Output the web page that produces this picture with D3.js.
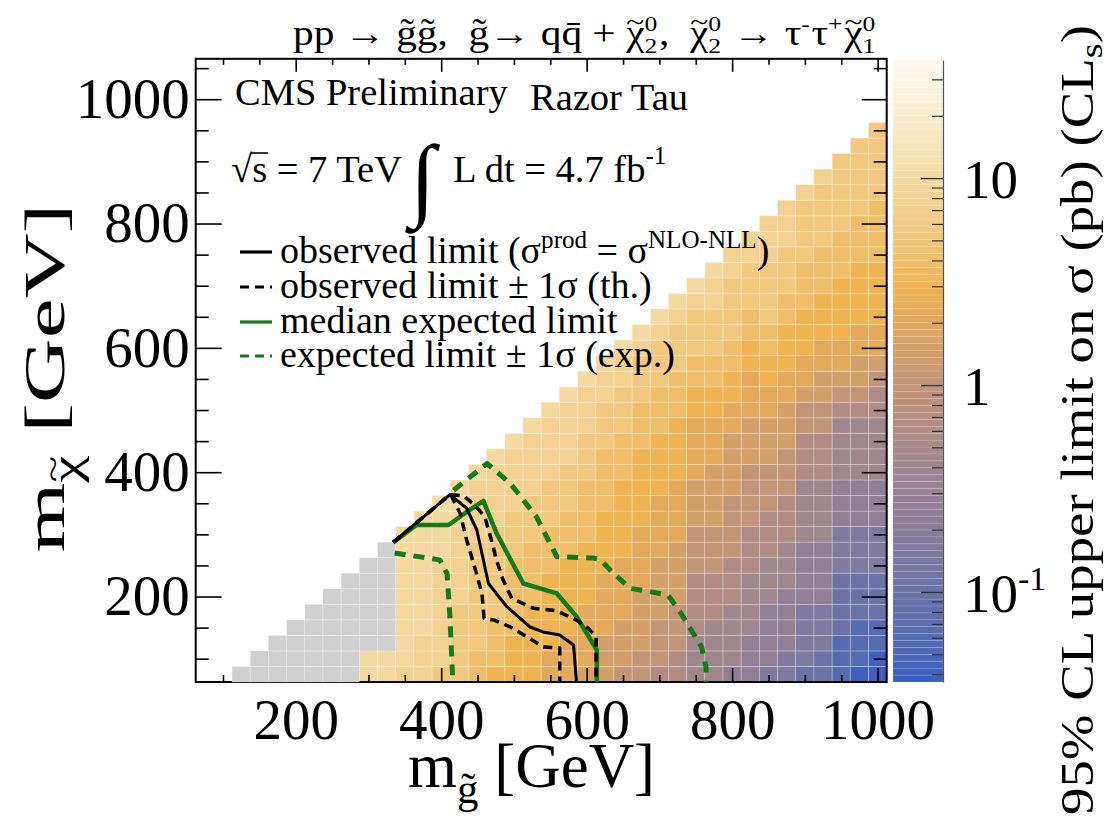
<!DOCTYPE html>
<html>
<head>
<meta charset="utf-8">
<script src="https://cdn.jsdelivr.net/npm/d3@7"></script>
<style>
  body { margin: 0; background: #fff; }
  svg text { font-family: "Liberation Serif", "DejaVu Serif", serif; fill: #000; white-space: pre; }
</style>
</head>
<body>
<svg id="chart" width="1109" height="820" xml:space="preserve"></svg>
<script>
// gluino mass of each column of cells (GeV)
const mGluino = [300, 325, 350, 375, 400, 425, 450, 475, 500, 525, 550, 575, 600, 625, 650,
  675, 700, 725, 750, 775, 800, 825, 850, 875, 900, 925, 950, 975, 1000];
// one code per cell, from m_chi = 75 GeV upward in 25 GeV steps
const cellCodes = [
  'ee', 'ee', 'deeeeeeeee', 'dddeeeeeeee', 'cdddddddeeee', 'cccccdddddeee',
  'bbcccccccdddde', 'abbbccccccdddde', 'aaabbbbbcccdddde', 'aaaaabbbbcccdddde',
  '99aaaaabbbcccdddde', '999aaaaabbbcccdddde', '89999aaaabbbbcccddde',
  '8889999aaaabbbbcccdde', '78889999aaaaabbbcccdde', '7788889999aaaaabbbcccde',
  '677788889999aaaabbbcccde', '6677788889999aaaabbbcccde', '55566667778889999aabbcccde',
  '55556667778888999aabbcccdde', '455556667777888899aabbccccdd', '44455556667777888999aabbcccdd',
  '3444455566677788899aabbccccddd', '33444455566677788899aaabbcccddd',
  '233334444555566677899aaabbbccccd', '2233344445555666778899aaabbbccccd',
  '1112222333444555567899aaaabbbccccc', '01112223334445555678899aaaabbbccccc',
  '00112223334445555667899aaaabbbbccccc'
];
const levelChars = '0123456789abcdefg';
const levelValues = [0.04, 0.06, 0.1, 0.16, 0.25, 0.4, 0.6, 1.0, 1.5, 2.2, 3.0, 4.0, 5.5, 7.5, 10, 14, 20];

// grey cells (no result): columns and lowest m_chi of each
const grayMg = [125, 150, 175, 200, 225, 250, 275, 300, 325];
const grayBottom = [75, 75, 75, 75, 75, 75, 75, 125, 125];

// contours [m_gluino, m_chi] in GeV
const observedLimit = [[334, 287], [412, 364], [435, 342], [449, 307], [465, 221], [490, 184],
  [522, 151], [540, 143], [563, 138], [582, 122], [586, 62.5]];
const observedMinus = [[334, 287], [412, 364], [414, 362], [426, 334], [435, 291], [447, 243],
  [456, 205], [459, 165], [473, 162], [495, 151], [518, 135], [540, 119], [563, 117], [563, 62.5]];
const observedPlus = [[334, 287], [412, 364], [431, 362], [447, 346], [460, 328], [469, 291],
  [476, 259], [485, 227], [497, 197], [527, 181], [559, 177], [586, 162], [602, 149], [613, 135], [613, 62.5]];
const expectedLimit = [[334, 287], [366, 315], [410, 315], [435, 336], [458, 354], [476, 302],
  [513, 221], [559, 205], [586, 168], [614, 114], [614, 62.5]];
const expectedMinus = [[336, 270], [398, 259], [408, 237], [412, 168], [416, 62.5]];
const expectedPlus = [[417, 371], [463, 414], [495, 382], [531, 328], [559, 264], [609, 262],
  [619, 259], [637, 237], [660, 213], [687, 208], [712, 202], [728, 176], [742, 149],
  [758, 119], [764, 87], [764, 62.5]];

const xMajor = [200, 400, 600, 800, 1000];
const xMinor = [100, 150, 250, 300, 350, 450, 500, 550, 650, 700, 750, 850, 900, 950];
const yMajor = [200, 400, 600, 800, 1000];
const yMinor = [100, 150, 250, 300, 350, 450, 500, 550, 650, 700, 750, 850, 900, 950, 1050];
const zMajor = [0.1, 1, 10];
const zMajorBase = ['10', '1', '10'];
const zMajorExp = ['-1', '', ''];
const zMinor = [0.04, 0.05, 0.06, 0.07, 0.08, 0.09, 0.2, 0.3, 0.4, 0.5, 0.6, 0.7, 0.8, 0.9,
  2, 3, 4, 5, 6, 7, 8, 9, 20, 30];

const svg = d3.select('#chart');
const frameL = 195.7, frameR = 886.7, frameT = 58.8, frameB = 682;
const x = d3.scaleLinear().domain([62.5, 1012.5]).range([frameL, frameR]);
const y = d3.scaleLinear().domain([62.5, 1065]).range([frameB, frameT]);
const z = d3.scaleLog().domain([0.0367, 37.2]).range([682, 60]);

const colorStops = [
  [0.0367, '#3a5ec0'], [0.06, '#566cb0'], [0.1, '#6a72a6'], [0.16, '#807a9e'],
  [0.25, '#908096'], [0.4, '#a0878e'], [0.6, '#b08c84'], [1.0, '#c29478'],
  [1.5, '#d4a06a'], [2.2, '#e4aa5c'], [3.0, '#eeb452'], [4.0, '#f0be68'],
  [5.5, '#f2c87e'], [7.5, '#f3d190'], [10, '#f4daa0'], [14, '#f6e4b8'],
  [20, '#f9edcf'], [37.2, '#fdf9ee']
];
const color = d3.scaleLinear()
  .domain(colorStops.map(d => Math.log10(d[0])))
  .range(colorStops.map(d => d[1]))
  .interpolate(d3.interpolateRgb)
  .clamp(true);
const fill = v => color(Math.log10(v));

// small helper for ROOT-like text with sub/superscripts and tildes
function rich(g, pieces, S) {
  let cx = 0;
  pieces.forEach(p => {
    if (p.t !== undefined) {
      const f = p.f || 1, dy = (p.dy || 0) * S;
      const el = g.append('text').attr('x', cx).attr('y', dy).attr('font-size', S * f).text(p.t);
      const w = el.node().getComputedTextLength();
      if (p.tilde) {
        g.append('text').attr('x', cx + w / 2).attr('y', dy - 0.4 * S * f)
          .attr('text-anchor', 'middle').attr('font-size', 0.8 * S * f).text('~');
      }
      cx += w;
    } else {
      let w = 0;
      if (p.sup) {
        const e = g.append('text').attr('x', cx).attr('y', -0.4 * S).attr('font-size', 0.62 * S).text(p.sup);
        w = Math.max(w, e.node().getComputedTextLength());
      }
      if (p.sub) {
        const e = g.append('text').attr('x', cx).attr('y', 0.24 * S).attr('font-size', 0.62 * S).text(p.sub);
        w = Math.max(w, e.node().getComputedTextLength());
      }
      cx += w + 0.04 * S;
    }
  });
  return cx;
}

// cells
const cells = [];
mGluino.forEach((mg, j) => {
  cellCodes[j].split('').forEach((ch, k) => {
    cells.push({mg: mg, mchi: 75 + 25 * k, v: levelValues[levelChars.indexOf(ch)]});
  });
});
const cellRect = sel => sel
  .attr('x', d => x(d.mg - 12.5))
  .attr('y', d => y(d.mchi + 12.5))
  .attr('width', d => x(d.mg + 12.5) - x(d.mg - 12.5))
  .attr('height', d => y(d.mchi - 12.5) - y(d.mchi + 12.5))
  .attr('stroke', '#fff')
  .attr('stroke-opacity', 0.28)
  .attr('stroke-width', 0.9);

svg.append('g').selectAll('rect').data(cells)
  .enter().append('rect')
  .call(cellRect)
  .attr('fill', d => fill(d.v));

// axes and frame
function ticks(axis, tx, ty, size, labels) {
  const g = svg.append('g').attr('transform', `translate(${tx},${ty})`);
  g.call(axis.tickSize(-size).tickSizeOuter(0));
  g.select('.domain').remove();
  g.selectAll('line').attr('stroke', '#000').attr('stroke-width', 1.6);
  g.attr('font-family', '"Liberation Serif", serif').attr('font-size', 57);
  if (!labels) g.selectAll('text').remove();
  return g;
}
ticks(d3.axisBottom(x).tickValues(xMajor).tickPadding(17).tickFormat(d3.format('d')), 0, frameB, 14, true);
ticks(d3.axisBottom(x).tickValues(xMinor).tickFormat(''), 0, frameB, 7, false);
ticks(d3.axisTop(x).tickValues(xMajor).tickFormat(''), 0, frameT, 13, false);
ticks(d3.axisTop(x).tickValues(xMinor).tickFormat(''), 0, frameT, 6, false);
ticks(d3.axisLeft(y).tickValues(yMajor).tickPadding(6).tickFormat(d3.format('d')), frameL, 0, 26, true);
ticks(d3.axisLeft(y).tickValues(yMinor).tickFormat(''), frameL, 0, 13, false);
ticks(d3.axisRight(y).tickValues(yMajor).tickFormat(''), frameR, 0, 25, false);
ticks(d3.axisRight(y).tickValues(yMinor).tickFormat(''), frameR, 0, 13, false);

svg.append('rect')
  .attr('x', frameL).attr('y', frameT)
  .attr('width', frameR - frameL).attr('height', frameB - frameT)
  .attr('fill', 'none').attr('stroke', '#000').attr('stroke-width', 2);

// grey cells sit above the frame, as in the original
const grayCells = [];
grayMg.forEach((mg, j) => {
  for (let mchi = grayBottom[j]; mchi <= mg - 50; mchi += 25) grayCells.push({mg: mg, mchi: mchi});
});
svg.append('g').selectAll('rect').data(grayCells)
  .enter().append('rect')
  .call(cellRect)
  .attr('fill', '#d0d0d0');

// contours
const line = d3.line().x(d => x(d[0])).y(d => y(d[1]));
const green = '#147c14';
const curves = [
  {data: expectedMinus, stroke: green, width: 5, dash: '11,8'},
  {data: expectedPlus, stroke: green, width: 5, dash: '11,8'},
  {data: expectedLimit, stroke: green, width: 4.5, dash: null},
  {data: observedMinus, stroke: '#000', width: 3.5, dash: '9,6'},
  {data: observedPlus, stroke: '#000', width: 3.5, dash: '9,6'},
  {data: observedLimit, stroke: '#000', width: 3, dash: null}
];
svg.append('g').selectAll('path').data(curves)
  .enter().append('path')
  .attr('d', d => line(d.data))
  .attr('fill', 'none')
  .attr('stroke', d => d.stroke)
  .attr('stroke-width', d => d.width)
  .attr('stroke-dasharray', d => d.dash)
  .attr('stroke-linejoin', 'round');

// colour bar
const nBands = 90;
const lz0 = Math.log10(z.domain()[0]), lz1 = Math.log10(z.domain()[1]);
const bands = d3.range(nBands).map(i => ({
  lo: Math.pow(10, lz0 + (lz1 - lz0) * i / nBands),
  hi: Math.pow(10, lz0 + (lz1 - lz0) * (i + 1) / nBands),
  mid: Math.pow(10, lz0 + (lz1 - lz0) * (i + 0.5) / nBands)
}));
svg.append('g').selectAll('rect').data(bands)
  .enter().append('rect')
  .attr('x', 893).attr('width', 50)
  .attr('y', d => z(d.hi))
  .attr('height', d => z(d.lo) - z(d.hi))
  .attr('fill', d => fill(d.mid))
  .attr('stroke', '#fff').attr('stroke-opacity', 0.18).attr('stroke-width', 0.6);

const zg = svg.append('g').attr('transform', 'translate(943,0)');
zg.call(d3.axisRight(z).tickValues(zMajor).tickSize(-22).tickSizeOuter(0).tickFormat(''));
zg.selectAll('line').attr('stroke', '#333').attr('stroke-width', 1.4);
zg.select('.domain').attr('stroke', '#555').attr('stroke-width', 1.2);
const zg2 = svg.append('g').attr('transform', 'translate(943,0)');
zg2.call(d3.axisRight(z).tickValues(zMinor).tickSize(-11).tickSizeOuter(0).tickFormat(''));
zg2.select('.domain').remove();
zg2.selectAll('line').attr('stroke', '#333').attr('stroke-width', 1.2);

zMajor.forEach((v, i) => {
  const t = svg.append('text')
    .attr('x', 963).attr('y', z(v)).attr('dy', '0.36em')
    .attr('font-size', 55)
    .text(zMajorBase[i]);
  if (zMajorExp[i]) t.append('tspan').attr('font-size', 34).attr('dy', -22).text(zMajorExp[i]);
});

// axis titles
const yT = svg.append('g');
const yTw = rich(yT, [{t: 'm'}, {t: '\u03c7', f: 0.68, dy: 0.28, tilde: true}, {t: ' [GeV]'}], 58);
yT.attr('transform', `translate(64,378) rotate(-90) scale(1.55,1) translate(${-yTw / 2},0)`);

const xT = svg.append('g');
rich(xT, [{t: 'm'}, {t: 'g\u0303', f: 0.68, dy: 0.26}, {t: ' [GeV]'}], 63);
xT.attr('transform', 'translate(408,787)');

const zT = svg.append('g');
const zTw = rich(zT, [{t: '95% CL upper limit on \u03c3 (pb) (CL'}, {t: 's', f: 0.7, dy: 0.2}, {t: ')'}], 46);
zT.attr('transform', `translate(1093,420) rotate(-90) scale(${790 / zTw},1) translate(${-zTw / 2},0)`);

// process title
const ttl = svg.append('g');
const ttlW = rich(ttl, [
  {t: 'pp \u2192 g\u0303g\u0303,  g\u0303\u2192 qq\u0304 + '}, {t: '\u03c7', tilde: true}, {sup: '0', sub: '2'},
  {t: ',  '}, {t: '\u03c7', tilde: true}, {sup: '0', sub: '2'},
  {t: ' \u2192 \u03c4'}, {sup: '-'}, {t: '\u03c4'}, {sup: '+'}, {t: '\u03c7', tilde: true}, {sup: '0', sub: '1'}
], 35);
ttl.attr('transform', `translate(293,45) scale(${584 / ttlW},1)`);

// labels inside the frame
svg.append('text').attr('x', 235).attr('y', 105).attr('font-size', 38.5).text('CMS Preliminary');
svg.append('text').attr('x', 530).attr('y', 110).attr('font-size', 38.5).text('Razor Tau');

const sq = svg.append('text').attr('x', 231).attr('y', 182).attr('font-size', 38.5).text('\u221as = 7 TeV');
const rootW = sq.node().getSubStringLength(0, 1);
const sW = sq.node().getSubStringLength(1, 1);
svg.append('line')
  .attr('x1', 231 + rootW - 1).attr('x2', 231 + rootW + sW + 1)
  .attr('y1', 182 - 29).attr('y2', 182 - 29)
  .attr('stroke', '#000').attr('stroke-width', 1.6);
svg.append('text').attr('x', 410).attr('y', 209).attr('font-size', 92).text('\u222b');
const lum = svg.append('text').attr('x', 453).attr('y', 182).attr('font-size', 38.5).text('L dt = 4.7 fb');
lum.append('tspan').attr('font-size', 25).attr('dy', -18).text('-1');

// legend
const legendY = [263, 298, 333, 367];
const legendStyle = [
  {stroke: '#000', dash: null}, {stroke: '#000', dash: '9,6'},
  {stroke: green, dash: null}, {stroke: green, dash: '9,6'}
];
legendStyle.forEach((s, i) => {
  svg.append('line')
    .attr('x1', 240).attr('x2', 272)
    .attr('y1', legendY[i] - 11).attr('y2', legendY[i] - 11)
    .attr('stroke', s.stroke).attr('stroke-width', 3.2)
    .attr('stroke-dasharray', s.dash);
});
const l1 = svg.append('g').attr('transform', `translate(280,${legendY[0]})`);
rich(l1, [{t: 'observed limit (\u03c3'}, {t: 'prod', f: 0.66, dy: -0.4}, {t: ' = \u03c3'},
  {t: 'NLO-NLL', f: 0.66, dy: -0.4}, {t: ')'}], 38);
svg.append('text').attr('x', 280).attr('y', legendY[1]).attr('font-size', 38).text('observed limit \u00b1 1\u03c3 (th.)');
svg.append('text').attr('x', 280).attr('y', legendY[2]).attr('font-size', 38).text('median expected limit');
svg.append('text').attr('x', 280).attr('y', legendY[3]).attr('font-size', 38).text('expected limit \u00b1 1\u03c3 (exp.)');
</script>
</body>
</html>
